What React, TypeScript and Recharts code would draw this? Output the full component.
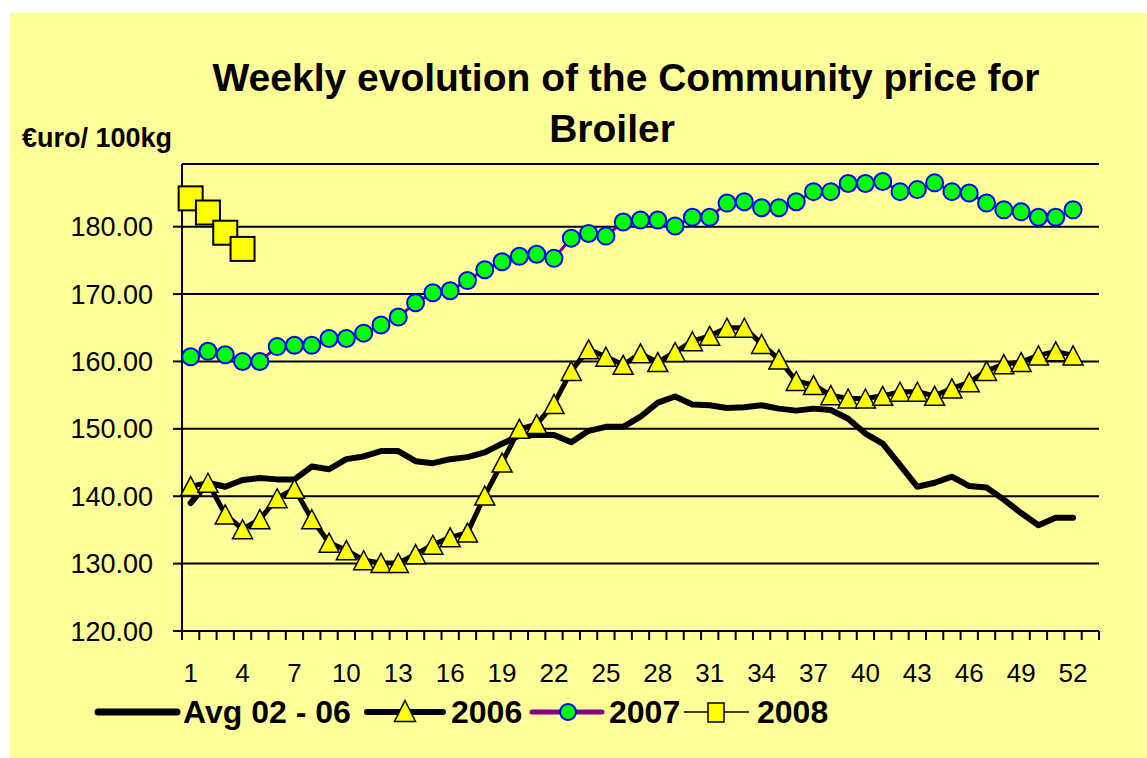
import { LineChart, Line, XAxis, YAxis, CartesianGrid } from 'recharts';

const weeks = [
    1, 2, 3, 4, 5, 6, 7, 8, 9, 10, 11, 12, 13, 14, 15, 16, 17, 18, 19, 20, 21, 22, 23, 24, 25, 26,
    27, 28, 29, 30, 31, 32, 33, 34, 35, 36, 37, 38, 39, 40, 41, 42, 43, 44, 45, 46, 47, 48, 49, 50,
    51, 52, 53,
];

const avg0206 = [
    139.0, 142.0, 141.4, 142.4, 142.7, 142.5, 142.5, 144.4, 144.0, 145.5, 145.9, 146.7, 146.7, 145.2,
    144.9, 145.5, 145.8, 146.5, 147.8, 149.0, 149.1, 149.1, 148.0, 149.7, 150.3, 150.3, 151.8, 153.9,
    154.8, 153.6, 153.5, 153.1, 153.2, 153.5, 153.0, 152.7, 153.0, 152.8, 151.5, 149.3, 147.8, 144.6,
    141.4, 142.0, 142.9, 141.5, 141.3, 139.5, 137.5, 135.7, 136.8, 136.8,
];

const y2006 = [
    141.5, 142.0, 137.3, 135.1, 136.6, 139.7, 141.1, 136.6, 133.1, 132.0, 130.5, 130.1, 130.1, 131.4,
    132.8, 133.9, 134.6, 140.1, 145.0, 150.0, 150.7, 153.7, 158.6, 161.8, 160.7, 159.5, 161.2, 159.9,
    161.4, 163.0, 163.8, 165.0, 165.0, 162.6, 160.3, 157.1, 156.5, 155.0, 154.5, 154.5, 154.9, 155.5,
    155.5, 154.9, 156.0, 156.9, 158.6, 159.6, 159.9, 160.9, 161.5, 160.9,
];

const y2007 = [
    160.7, 161.5, 161.0, 160.0, 160.0, 162.2, 162.4, 162.4, 163.4, 163.4, 164.2, 165.4, 166.6, 168.7,
    170.2, 170.5, 172.0, 173.6, 174.8, 175.6, 175.9, 175.3, 178.3, 179.0, 178.6, 180.7, 181.0, 181.0,
    180.1, 181.4, 181.4, 183.5, 183.7, 182.8, 182.8, 183.7, 185.2, 185.2, 186.4, 186.4, 186.7, 185.2,
    185.5, 186.5, 185.2, 185.0, 183.5, 182.5, 182.2, 181.4, 181.4, 182.5,
];

const y2008 = [184.2, 182.1, 179.1, 176.7];

const yTicks = [120, 130, 140, 150, 160, 170, 180];

const FONT = '"Liberation Sans", Arial, sans-serif';
const PLOT_LEFT = 182;
const PLOT_RIGHT = 1099;
const BAND = (PLOT_RIGHT - PLOT_LEFT) / weeks.length;

const rows = weeks.map((w, i) => ({
    week: w,
    avg: avg0206[i] ?? null,
    s2006: y2006[i] ?? null,
    s2007: y2007[i] ?? null,
    s2008: y2008[i] ?? null,
}));

function triangle(cx: number, cy: number, w: number, h: number) {
    return `M${cx},${cy - h / 2} L${cx + w / 2},${cy + h / 2} L${cx - w / 2},${cy + h / 2} Z`;
}

// eslint-disable-next-line @typescript-eslint/no-explicit-any
const TriDot = (p: any) => {
    if (p.cx == null || p.cy == null || p.value == null) return <g key={p.index} />;
    return (
        <path
            key={p.index}
            d={triangle(p.cx, p.cy, 20, 19)}
            fill="#FFFF00"
            stroke="#000"
            strokeWidth={1.5}
            strokeLinejoin="miter"
        />
    );
};

// eslint-disable-next-line @typescript-eslint/no-explicit-any
const CircleDot = (p: any) => {
    if (p.cx == null || p.cy == null || p.value == null) return <g key={p.index} />;
    return <circle key={p.index} cx={p.cx} cy={p.cy} r={8.5} fill="#00FF00" stroke="#0000FF" strokeWidth={2} />;
};

// eslint-disable-next-line @typescript-eslint/no-explicit-any
const SquareDot = (p: any) => {
    if (p.cx == null || p.cy == null || p.value == null) return <g key={p.index} />;
    return (
        <rect key={p.index} x={p.cx - 12} y={p.cy - 12} width={24} height={24} fill="#FFFF00" stroke="#000" strokeWidth={2} />
    );
};

// eslint-disable-next-line @typescript-eslint/no-explicit-any
const XTick = (p: any) => {
    const { x, y, payload, index } = p;
    const half = BAND / 2;
    return (
        <g>
            <line x1={x - half} x2={x - half} y1={y} y2={y + 9} stroke="#000" strokeWidth={2} />
            {index === weeks.length - 1 && (
                <line x1={x + half} x2={x + half} y1={y} y2={y + 9} stroke="#000" strokeWidth={2} />
            )}
            {(payload.value - 1) % 3 === 0 && (
                <text x={x} y={y + 51} textAnchor="middle" fontSize={26} fontFamily={FONT} fill="#000">
                    {payload.value}
                </text>
            )}
        </g>
    );
};

function Legend() {
    const ty = 723;
    const text = { fontSize: 32, fontWeight: 700, fontFamily: FONT, fill: '#000' };
    return (
        <g>
            <line x1={98} x2={177} y1={712} y2={712} stroke="#000" strokeWidth={7} strokeLinecap="round" />
            <text x={183} y={ty} {...text}>Avg 02 - 06</text>

            <line x1={367} x2={443} y1={712} y2={712} stroke="#000" strokeWidth={6} strokeLinecap="round" />
            <path d={triangle(405, 711, 21, 21)} fill="#FFFF00" stroke="#000" strokeWidth={1.5} />
            <text x={451} y={ty} {...text}>2006</text>

            <line x1={532} x2={602} y1={712} y2={712} stroke="#800080" strokeWidth={5} strokeLinecap="round" />
            <circle cx={568} cy={712} r={8} fill="#00FF00" stroke="#0000FF" strokeWidth={2} />
            <text x={609} y={ty} {...text}>2007</text>

            <line x1={684} x2={749} y1={712} y2={712} stroke="#000" strokeWidth={1.5} />
            <rect x={708} y={703} width={16} height={19} fill="#FFFF00" stroke="#000" strokeWidth={1.5} />
            <text x={757} y={ty} {...text}>2008</text>
        </g>
    );
}

export default function App() {
    return (
        <div style={{ position: 'relative', width: 1147, height: 758, background: '#fff', fontFamily: FONT }}>
            <style>{'body{margin:0}'}</style>
            <div style={{ position: 'absolute', left: 10, top: 13, width: 1137, height: 745, background: '#FFFF99' }} />
            <div style={{ position: 'absolute', left: 0, top: 0 }}>
                <LineChart
                    width={1147}
                    height={758}
                    data={rows}
                    margin={{ top: 164, right: 1147 - PLOT_RIGHT, bottom: 67, left: 0 }}
                >
                    <CartesianGrid vertical={false} stroke="#000" strokeWidth={2} />
                    <XAxis
                        dataKey="week"
                        interval={0}
                        height={60}
                        padding={{ left: BAND / 2, right: BAND / 2 }}
                        axisLine={{ stroke: '#000', strokeWidth: 2 }}
                        tickLine={false}
                        tickSize={0}
                        tickMargin={0}
                        tick={XTick}
                    />
                    <YAxis
                        width={PLOT_LEFT}
                        domain={[120, 189.3]}
                        ticks={yTicks}
                        interval={0}
                        tickFormatter={(v: number) => v.toFixed(2)}
                        axisLine={{ stroke: '#000', strokeWidth: 2 }}
                        tickLine={{ stroke: '#000', strokeWidth: 2 }}
                        tickSize={9}
                        tickMargin={20}
                        tick={{ fontSize: 27, fill: '#000', fontFamily: FONT }}
                    />
                    <Line
                        dataKey="avg"
                        stroke="#000"
                        strokeWidth={6}
                        strokeLinejoin="round"
                        strokeLinecap="round"
                        dot={false}
                        activeDot={false}
                        isAnimationActive={false}
                    />
                    <Line
                        dataKey="s2006"
                        stroke="#000"
                        strokeWidth={5}
                        strokeLinejoin="round"
                        dot={TriDot}
                        activeDot={false}
                        isAnimationActive={false}
                    />
                    <Line
                        dataKey="s2007"
                        stroke="#800080"
                        strokeWidth={3}
                        dot={CircleDot}
                        activeDot={false}
                        isAnimationActive={false}
                    />
                    <Line
                        dataKey="s2008"
                        stroke="#000"
                        strokeWidth={1}
                        dot={SquareDot}
                        activeDot={false}
                        isAnimationActive={false}
                    />
                </LineChart>
            </div>
            <svg
                width={1147}
                height={758}
                style={{ position: 'absolute', left: 0, top: 0, pointerEvents: 'none' }}
            >
                <text x={626} y={91} textAnchor="middle" fontSize={39} fontWeight={700} fontFamily={FONT} fill="#000">
                    Weekly evolution of the Community price for
                </text>
                <text x={612} y={142} textAnchor="middle" fontSize={39} fontWeight={700} fontFamily={FONT} fill="#000">
                    Broiler
                </text>
                <text x={22} y={147} fontSize={27} fontWeight={700} fontFamily={FONT} fill="#000">
                    €uro/ 100kg
                </text>
                <Legend />
            </svg>
        </div>
    );
}
